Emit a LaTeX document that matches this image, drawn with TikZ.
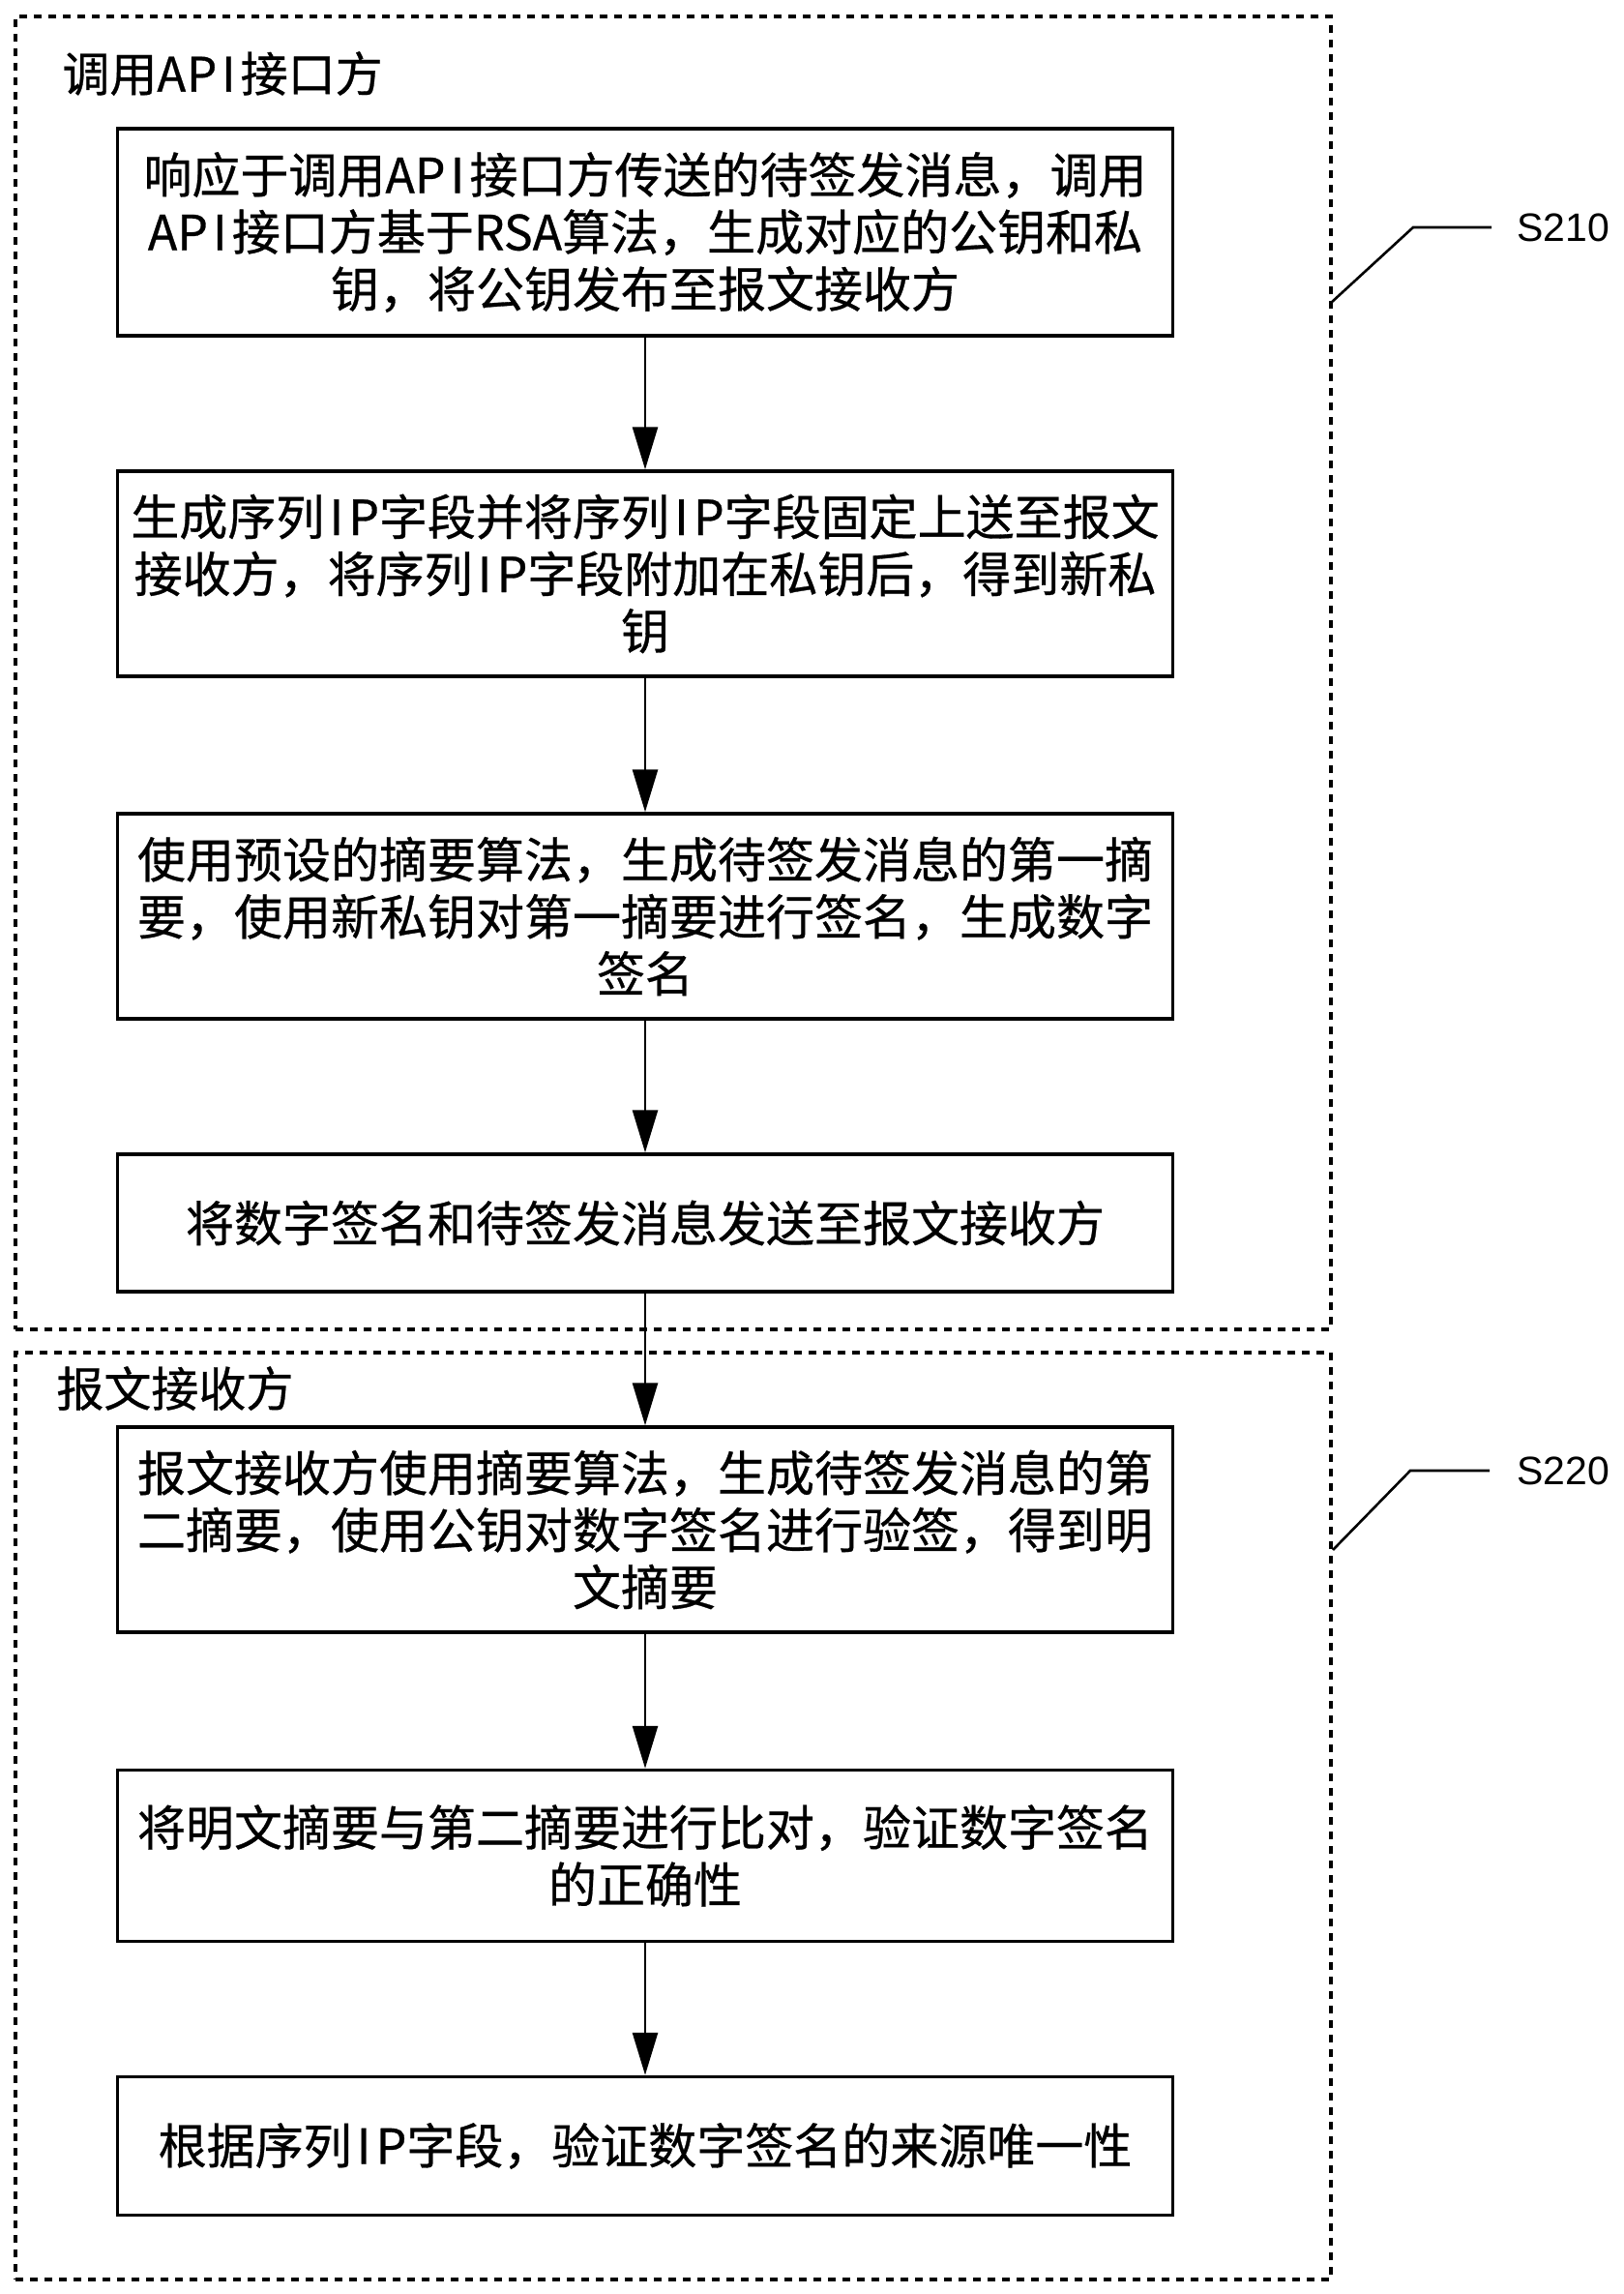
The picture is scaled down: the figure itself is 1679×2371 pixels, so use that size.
\documentclass[tikz,border=0pt]{standalone}
\usepackage{fontspec}
\setmainfont{Noto Sans CJK SC}[FakeBold=0.6]
\newfontfamily\labfont{Liberation Sans}
\usetikzlibrary{arrows.meta}
\newcommand\hwI{\makebox[0.5em]{I}}
\tikzset{
  stepbox/.style={draw, line width=1.75pt, minimum width=545.5pt, align=center, inner sep=0pt,
    font=\fontsize{25pt}{29.5pt}\selectfont},
  group/.style={draw, line width=2.2pt, dash pattern=on 4pt off 3.5pt, inner sep=0pt},
  grouplabel/.style={anchor=west, inner sep=0pt, font=\fontsize{24.5pt}{29pt}\selectfont},
  flow/.style={line width=1.4pt, -{Triangle[length=22pt,width=13pt]}},
  leader/.style={line width=1.3pt},
  steplabel/.style={anchor=west, inner sep=0pt, font=\labfont\fontsize{20.5pt}{24pt}\selectfont}
}
\begin{document}
\begin{tikzpicture}[x=0.5pt,y=-0.5pt]
\useasboundingbox (0,0) rectangle (1679,2371);
% groups
\node[group, minimum width=680pt, minimum height=678.5pt] (grpA) at (696,695.5) {};
\node[group, minimum width=680pt, minimum height=479pt] (grpB) at (696,1877) {};
\node[grouplabel] (labA) at (64,76) {调用A\kern0.02em P\hwI 接口方};
\node[grouplabel] (labB) at (58,1435) {报文接收方};
% steps
\node[stepbox, minimum height=107pt] (s1) at (667,240) {响应于调用AP\hwI 接口方传送的待签发消息，调用\\AP\hwI 接口方基于RSA算法，生成对应的公钥和私\\钥，将公钥发布至报文接收方};
\node[stepbox, minimum height=106pt] (s2) at (667,593) {生成序列\hwI P字段并将序列\hwI P字段固定上送至报文\\接收方，将序列\hwI P字段附加在私钥后，得到新私\\钥};
\node[stepbox, minimum height=106pt] (s3) at (667,947) {使用预设的摘要算法，生成待签发消息的第一摘\\要，使用新私钥对第一摘要进行签名，生成数字\\签名};
\node[stepbox, minimum height=71pt] (s4) at (667,1264) {将数字签名和待签发消息发送至报文接收方};
\node[stepbox, minimum height=106pt] (s5) at (667,1581) {报文接收方使用摘要算法，生成待签发消息的第\\二摘要，使用公钥对数字签名进行验签，得到明\\文摘要};
\node[stepbox, minimum height=88.5pt] (s6) at (667,1918) {将明文摘要与第二摘要进行比对，验证数字签名\\的正确性};
\node[stepbox, minimum height=71.5pt] (s7) at (667,2218) {根据序列\hwI P字段，验证数字签名的来源唯一性};
% flow
\draw[flow] (s1) -- (s2);
\draw[flow] (s2) -- (s3);
\draw[flow] (s3) -- (s4);
\draw[flow] (s4) -- (s5);
\draw[flow] (s5) -- (s6);
\draw[flow] (s6) -- (s7);
% step labels
\node[steplabel] (t1) at (1568,235) {S210};
\node[steplabel] (t2) at (1568,1520) {S220};
\coordinate (a1) at (1376,313);
\coordinate (b1) at (1461,235);
\coordinate (c1) at (1542,235);
\coordinate (a2) at (1378,1602);
\coordinate (b2) at (1458,1520);
\coordinate (c2) at (1540,1520);
\draw[leader] (a1) -- (b1) -- (c1);
\draw[leader] (a2) -- (b2) -- (c2);
\end{tikzpicture}
\end{document}
